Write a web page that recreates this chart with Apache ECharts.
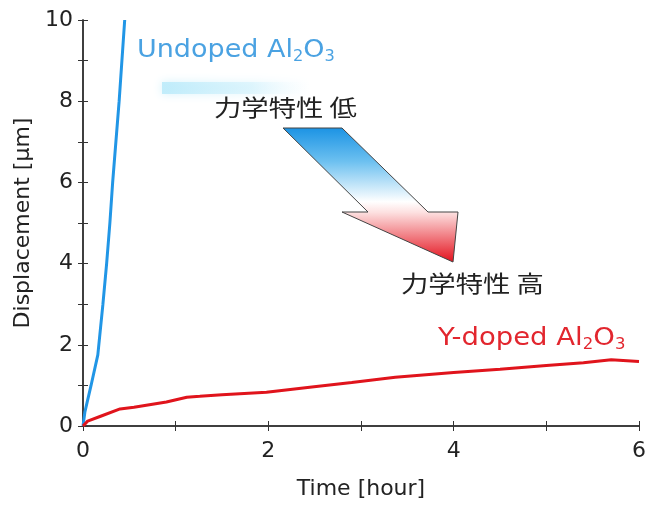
<!DOCTYPE html>
<html>
<head>
    <meta charset="utf-8">
    <script src="https://cdn.jsdelivr.net/npm/echarts@6/dist/echarts.min.js"></script>
</head>
<body style="margin: 0; background: #fff">
<div id="container" style="width: 649px; height: 505px"></div>
<script type="text/javascript">
    // time [hour], displacement [um]
    var undopedTime = [0, 0.02, 0.085, 0.16, 0.215, 0.255, 0.29, 0.32, 0.39, 0.45];
    var undopedDisp = [0, 0.34, 0.98, 1.75, 3.0, 4.0, 5.0, 6.0, 8.0, 10.0];
    var ydopedTime = [0, 0.05, 0.19, 0.4, 0.55, 0.9, 1.12, 1.26, 1.5, 1.98, 2.47, 2.9, 3.37, 4.0, 4.5, 5.0, 5.4, 5.7, 6.0];
    var ydopedDisp = [0, 0.12, 0.24, 0.42, 0.46, 0.59, 0.71, 0.73, 0.77, 0.83, 0.96, 1.07, 1.2, 1.32, 1.4, 1.49, 1.56, 1.63, 1.59];
    var xTicks = [0, 2, 4, 6];
    var yTicks = [0, 2, 4, 6, 8, 10];

    function pairs(xs, ys) {
        return xs.map(function (x, i) { return [x, ys[i]]; });
    }

    var font = 'DejaVu Sans';
    var cjk = '"Noto Sans CJK JP"';
    var tick = {show: true, inside: true, length: 5, lineStyle: {color: '#333'}};
    var minor = {show: true, splitNumber: 2, length: 5, lineStyle: {color: '#333'}};
    var line = {show: true, lineStyle: {color: '#333', width: 1.5}};

    function xAx(pos, labels) {
        return {
            type: 'value', position: pos, min: xTicks[0], max: xTicks[xTicks.length - 1], interval: 2,
            axisLine: line, axisTick: tick, minorTick: minor, splitLine: {show: false},
            axisLabel: {show: labels, fontSize: 22, fontFamily: font, color: '#222', margin: 14},
            name: labels ? 'Time [hour]' : '', nameLocation: 'middle', nameGap: 52,
            nameTextStyle: {fontSize: 22, fontFamily: font, color: '#222'}
        };
    }
    function yAx(pos, labels) {
        return {
            type: 'value', position: pos, min: yTicks[0], max: yTicks[yTicks.length - 1], interval: 2,
            axisLine: line, axisTick: tick, minorTick: minor, splitLine: {show: false},
            axisLabel: {show: labels, fontSize: 22, fontFamily: font, color: '#222', margin: 10},
            name: labels ? 'Displacement [μm]' : '', nameLocation: 'middle', nameGap: 46,
            nameTextStyle: {fontSize: 22, fontFamily: font, color: '#222'}
        };
    }

    var myChart = echarts.init(document.getElementById('container'));
    var option = {
        animation: false,
        backgroundColor: '#fff',
        grid: {left: 83, right: 8, top: 20, bottom: 78},
        xAxis: [xAx('bottom', true), xAx('top', false)],
        yAxis: [yAx('left', true), yAx('right', false)],
        graphic: [
            // faint cyan glow behind upper label
            {type: 'rect', shape: {x: 162, y: 82, width: 150, height: 12}, z: 1,
                style: {
                    fill: new echarts.graphic.LinearGradient(0, 0, 1, 0, [
                        {offset: 0, color: 'rgba(185,234,250,0.85)'},
                        {offset: 0.6, color: 'rgba(205,240,252,0.5)'},
                        {offset: 1, color: 'rgba(255,255,255,0)'}]),
                    shadowBlur: 10, shadowColor: 'rgba(200,238,250,0.9)'
                }},
            {type: 'polygon', z: 5,
                shape: {points: [[283, 128], [342, 128], [428, 212], [458, 212], [453, 262], [342, 212], [368, 212]]},
                style: {
                    stroke: '#444', lineWidth: 1,
                    fill: new echarts.graphic.LinearGradient(0, 0, 0, 1, [
                        {offset: 0, color: '#1b93e4'},
                        {offset: 0.25, color: '#6cc0f0'},
                        {offset: 0.55, color: '#ffffff'},
                        {offset: 0.63, color: '#fde0e0'},
                        {offset: 1, color: '#e3101c'}])
                }},
            {type: 'text', x: 137, y: 50, z: 10, scaleX: 1.08,
                style: {text: '{a|Undoped Al}{s|2}{a|O}{s|3}', verticalAlign: 'middle',
                    rich: {a: {fontSize: 25, fontFamily: font, fill: '#4aa2e2'},
                        s: {fontSize: 15, fontFamily: font, fill: '#4aa2e2', padding: [14, 0, 0, 0]}}}},
            {type: 'text', x: 438, y: 338, z: 10, scaleX: 1.1,
                style: {text: '{a|Y-doped Al}{s|2}{a|O}{s|3}', verticalAlign: 'middle',
                    rich: {a: {fontSize: 25, fontFamily: font, fill: '#e2262e'},
                        s: {fontSize: 15, fontFamily: font, fill: '#e2262e', padding: [14, 0, 0, 0]}}}},
            {type: 'text', x: 214, y: 107, z: 10, scaleX: 1.19,
                style: {text: '力学特性 低', fontSize: 23, fontFamily: cjk, fill: '#222', verticalAlign: 'middle'}},
            {type: 'text', x: 401, y: 283, z: 10, scaleX: 1.19,
                style: {text: '力学特性 高', fontSize: 23, fontFamily: cjk, fill: '#222', verticalAlign: 'middle'}}
        ],
        series: [
            {name: 'Undoped Al2O3', type: 'line', data: pairs(undopedTime, undopedDisp),
                showSymbol: false, lineStyle: {color: '#2196e6', width: 3}, itemStyle: {color: '#2196e6'}},
            {name: 'Y-doped Al2O3', type: 'line', data: pairs(ydopedTime, ydopedDisp),
                showSymbol: false, lineStyle: {color: '#e0141c', width: 3}, itemStyle: {color: '#e0141c'}}
        ]
    };
    myChart.setOption(option);
</script>
</body>
</html>
